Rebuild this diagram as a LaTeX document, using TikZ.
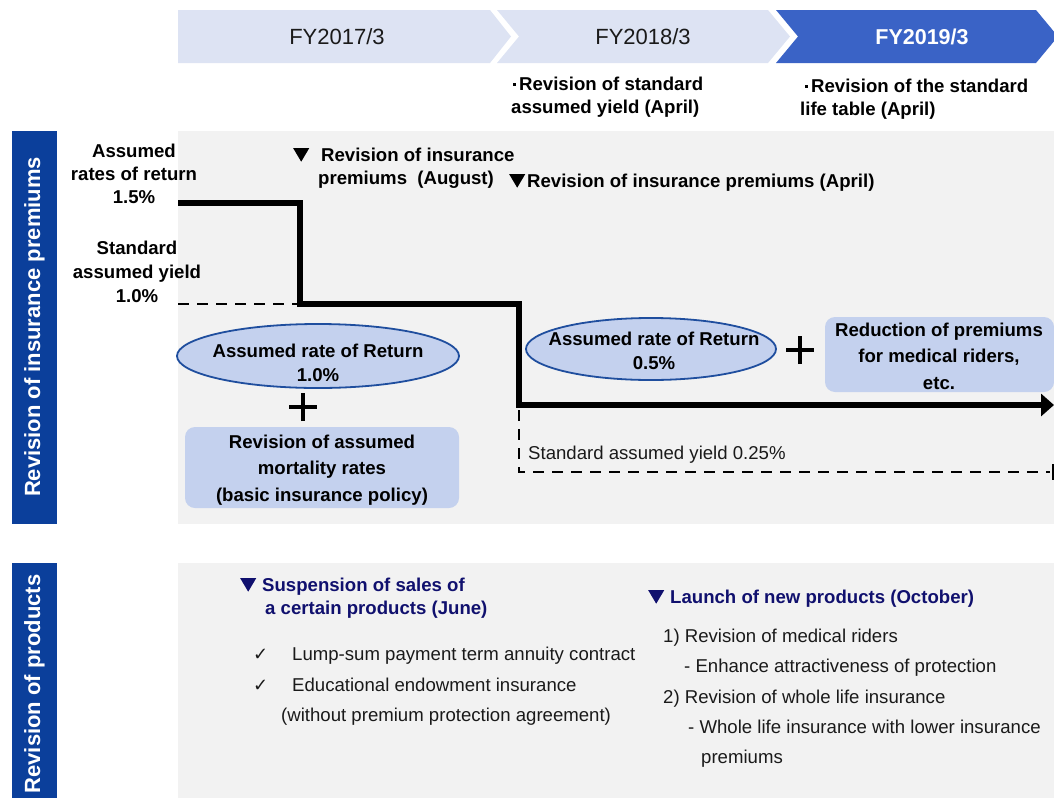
\documentclass[tikz,border=0pt]{standalone}
\usepackage{fontspec}
\setmainfont{Liberation Sans}
\newfontfamily\symfont{DejaVu Sans}
\usetikzlibrary{arrows.meta,shapes.geometric}

\definecolor{barblue}{HTML}{0B3F9B}
\definecolor{chevlight}{HTML}{DDE3F3}
\definecolor{chevblue}{HTML}{3A63C6}
\definecolor{panelgrey}{HTML}{F2F2F2}
\definecolor{boxblue}{HTML}{C4D1EE}
\definecolor{ellline}{HTML}{1F4E9E}
\definecolor{navy}{HTML}{10106E}
\definecolor{ink}{HTML}{1A1A1A}

% solid down-pointing triangle used as an event marker
\newcommand\evmark[1][black]{\tikz[x=1pt,y=1pt,baseline=0pt]\fill[#1] (0,13.5) -- (16,13.5) -- (8,0) -- cycle;}
% small square bullet
\newcommand\sqbullet{\raisebox{5pt}{\rule{3pt}{3pt}}\hspace{3pt}}
% check mark for the product list
\newcommand\tick{{\symfont\fontsize{18}{18}\selectfont ✓}}

\tikzset{
  hdr/.style={font=\fontsize{22}{26}\selectfont, inner sep=0pt, text=ink},
  hdrbold/.style={font=\fontsize{21.5}{26}\selectfont\bfseries, inner sep=0pt, text=white},
  boldtxt/.style={font=\fontsize{18.6}{23}\selectfont\bfseries, inner sep=0pt, text=black},
  plaintxt/.style={font=\fontsize{18.6}{30.5}\selectfont, inner sep=0pt, text=ink},
  navyhead/.style={font=\fontsize{18.6}{23}\selectfont\bfseries, inner sep=0pt, text=navy},
  sidebar/.style={fill=barblue, draw=none},
  sidetxt/.style={font=\fontsize{22}{26}\selectfont\bfseries, text=white, rotate=90, inner sep=0pt},
  panel/.style={fill=panelgrey, draw=none},
  rateell/.style={ellipse, draw=ellline, line width=1.8pt, fill=boxblue, inner sep=0pt},
  softbox/.style={rectangle, rounded corners=10pt, fill=boxblue, draw=none, inner sep=0pt},
  stepline/.style={line width=6pt, line join=miter, -{Triangle[length=13pt,width=22pt]}},
  yieldline/.style={line width=2.6pt, dash pattern=on 11pt off 8pt},
  plussign/.style={line width=3.6pt}
}

\begin{document}
\begin{tikzpicture}[x=1pt,y=-1pt]
\useasboundingbox (0,0) rectangle (1054,798);
\clip (0,0) rectangle (1054,798);

% fiscal-year chevrons
\fill[chevlight] (178,10) -- (490,10) -- (511,36.5) -- (490,63) -- (178,63) -- cycle;
\fill[chevlight] (497,10) -- (768,10) -- (790,36.5) -- (768,63) -- (497,63) -- (519,36.5) -- cycle;
\fill[chevblue] (776,10) -- (1036,10) -- (1058,36.5) -- (1036,63) -- (776,63) -- (798,36.5) -- cycle;
\node[hdr] (fy17) at (337,37) {FY2017/3};
\node[hdr] (fy18) at (643,37) {FY2018/3};
\node[hdrbold] (fy19) at (922,37) {FY2019/3};

% notes under the chevrons
\node[boldtxt, anchor=north west, align=left] (note18) at (511,77)
  {\hspace{2pt}\sqbullet Revision of standard\\assumed yield (April)};
\node[boldtxt, anchor=north west, align=left] (note19) at (800,79)
  {\hspace{5pt}\sqbullet Revision of the standard\\life table (April)};

% side bars and panels
\fill[sidebar] (12,131) rectangle (57,524);
\node[sidetxt] (side1) at (34.5,327) {Revision of insurance premiums};
\fill[sidebar] (12,563) rectangle (57,798);
\node[sidetxt] (side2) at (34.5,684) {Revision of products};
\fill[panel] (178,131) rectangle (1054,524);
\fill[panel] (178,563) rectangle (1054,798);

% rate labels on the left
\node[boldtxt, align=center, anchor=north] (ar15) at (134,144)
  {Assumed\\rates of return\\1.5\%};
\node[boldtxt, align=center, anchor=north, font=\fontsize{18.6}{24}\selectfont\bfseries] (sy10) at (137,241)
  {Standard\\assumed yield\\1.0\%};

% revision events
\node[boldtxt, align=left, anchor=north west] (revaug) at (293,148)
  {\evmark\hspace{12pt}Revision of insurance\\\hspace*{25pt}premiums~~(August)};
\node[boldtxt, anchor=north west] (revapr) at (509,174)
  {\evmark\hspace{2pt}Revision of insurance premiums (April)};

% assumed-rate step line
\coordinate (s0) at (178,203);
\coordinate (s1) at (300,304);
\coordinate (s2) at (519,405);
\coordinate (s3) at (1054,405);
\draw[stepline] (s0) -| (s1) -| (s2) -- (s3);

% standard assumed yield
\coordinate (y0) at (178,304);
\coordinate (y1) at (297,304);
\draw[yieldline] (y0) -- (y1);
\coordinate (y2) at (519,410);
\coordinate (y3) at (519,472);
\coordinate (y4) at (1050,472);
\draw[yieldline] (y2) -- (y3) -- (y4);
\coordinate (y5) at (1053,464);
\coordinate (y6) at (1053,480);
\draw[line width=2pt] (y5) -- (y6);
\node[plaintxt, anchor=base west] (sy025) at (528,459.5) {Standard assumed yield 0.25\%};

% first revision (August)
\node[rateell, minimum width=282pt, minimum height=64pt] (ell1) at (318,356) {};
\node[boldtxt, align=center, font=\fontsize{18.6}{24}\selectfont\bfseries] (ell1txt) at (318,363) {Assumed rate of Return\\1.0\%};
\coordinate (p1) at (303,407);
\draw[plussign] ([xshift=-14pt]p1) -- ([xshift=14pt]p1) ([yshift=-14pt]p1) -- ([yshift=14pt]p1);
\node[softbox, minimum width=274pt, minimum height=81pt] (box1) at (322,467.5) {};
\node[boldtxt, align=center, font=\fontsize{18.6}{26.5}\selectfont\bfseries] (box1txt) at (322,470)
  {Revision of assumed\\mortality rates\\(basic insurance policy)};

% second revision (April)
\node[rateell, minimum width=250pt, minimum height=62pt] (ell2) at (651,349) {};
\node[boldtxt, align=center, font=\fontsize{18.6}{24}\selectfont\bfseries] (ell2txt) at (654,351) {Assumed rate of Return\\0.5\%};
\coordinate (p2) at (800,350);
\draw[plussign] ([xshift=-14pt]p2) -- ([xshift=14pt]p2) ([yshift=-14pt]p2) -- ([yshift=14pt]p2);
\node[softbox, minimum width=229pt, minimum height=75pt] (box2) at (939.5,354.5) {};
\node[boldtxt, align=center, font=\fontsize{18.6}{26.5}\selectfont\bfseries] (box2txt) at (939,356)
  {Reduction of premiums\\for medical riders,\\etc.};

% product revisions
\node[navyhead, anchor=north west, align=left] (susp) at (240,578)
  {\evmark[navy]\hspace{6pt}Suspension of sales of\\\hspace*{25pt}a certain products (June)};
\node[plaintxt, anchor=north west, align=left] (susplist) at (253,647)
  {\makebox[39pt][l]{\tick}Lump-sum payment term annuity contract\\
   \makebox[39pt][l]{\tick}Educational endowment insurance\\
   \hspace*{28pt}(without premium protection agreement)};

\node[navyhead, anchor=north west] (launch) at (648,590)
  {\evmark[navy]\hspace{6pt}Launch of new products (October)};
\node[plaintxt, anchor=north west, align=left, font=\fontsize{18.6}{30.25}\selectfont] (launchlist) at (663,629)
  {1) Revision of medical riders\\
   \hspace*{21pt}- Enhance attractiveness of protection\\
   2) Revision of whole life insurance\\
   \hspace*{25pt}- Whole life insurance with lower insurance\\
   \hspace*{38pt}premiums};
\end{tikzpicture}
\end{document}
